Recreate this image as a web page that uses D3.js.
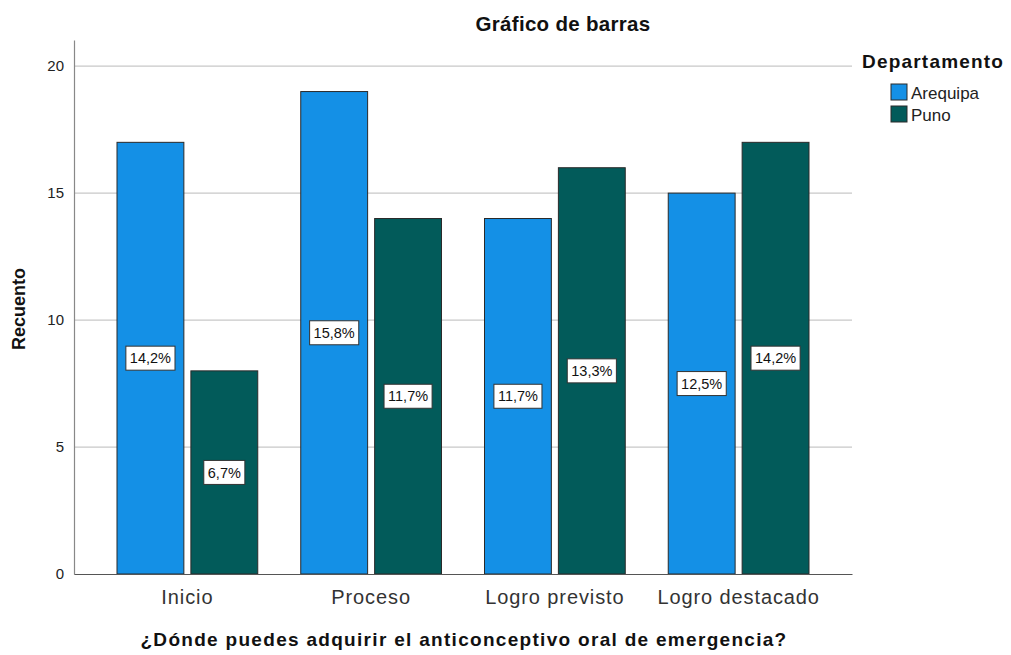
<!DOCTYPE html>
<html>
<head>
<meta charset="utf-8">
<script src="https://cdn.jsdelivr.net/npm/d3@7"></script>
<style>
  body { margin: 0; background: #fff; }
  text { font-family: "Liberation Sans", Arial, sans-serif; }
</style>
</head>
<body>
<script>
const categories = ["Inicio", "Proceso", "Logro previsto", "Logro destacado"];
const groups = ["Arequipa", "Puno"];
const arequipa = [17, 19, 14, 15];
const puno = [8, 14, 16, 17];
const arequipaPct = ["14,2%", "15,8%", "11,7%", "12,5%"];
const punoPct = ["6,7%", "11,7%", "13,3%", "14,2%"];
const yTicks = [0, 5, 10, 15, 20];

const width = 1011, height = 655;
const plotLeft = 74, plotRight = 852, plotTop = 40, plotBottom = 574;

const colors = d3.scaleOrdinal().domain(groups).range(["#1490e6", "#025b5a"]);

const svg = d3.select("body").append("svg")
    .attr("width", width)
    .attr("height", height);

const x = d3.scaleBand()
    .domain(categories)
    .range([plotLeft, plotRight])
    .paddingInner(0.234)
    .paddingOuter(0.234);

const xSub = d3.scaleBand()
    .domain(groups)
    .range([0, x.bandwidth()])
    .paddingInner(0.095);

const y = d3.scaleLinear()
    .domain([0, 21.03])
    .range([plotBottom, plotTop]);

// gridlines
svg.append("g")
    .selectAll("line")
    .data(yTicks.filter(d => d > 0))
    .enter().append("line")
    .attr("x1", plotLeft).attr("x2", plotRight)
    .attr("y1", d => y(d)).attr("y2", d => y(d))
    .attr("stroke", "#c8c8c8")
    .attr("stroke-width", 1.2);

// y axis
const yAxis = svg.append("g")
    .attr("transform", `translate(${plotLeft},0)`)
    .call(d3.axisLeft(y).tickValues(yTicks).tickSize(0).tickPadding(10));
yAxis.select(".domain").attr("stroke", "#888").attr("stroke-width", 1.2);
yAxis.selectAll("text").style("font-size", "15px").attr("fill", "#222");

// bars
const rows = categories.map((c, i) => ({
    cat: c,
    vals: [
        {g: "Arequipa", v: arequipa[i], p: arequipaPct[i]},
        {g: "Puno", v: puno[i], p: punoPct[i]}
    ]
}));

const grp = svg.append("g").selectAll("g")
    .data(rows)
    .enter().append("g")
    .attr("transform", d => `translate(${x(d.cat)},0)`);

grp.selectAll("rect")
    .data(d => d.vals)
    .enter().append("rect")
    .attr("x", d => xSub(d.g))
    .attr("y", d => y(d.v))
    .attr("width", xSub.bandwidth())
    .attr("height", d => y(0) - y(d.v))
    .attr("fill", d => colors(d.g))
    .attr("stroke", "#2a2a2a")
    .attr("stroke-width", 1);

// percentage labels
const lab = grp.selectAll(".lab")
    .data(d => d.vals)
    .enter().append("g")
    .attr("class", "lab")
    .attr("transform", d => `translate(${xSub(d.g) + xSub.bandwidth() / 2},${y(d.v / 2)})`);

lab.append("rect")
    .attr("y", -12)
    .attr("height", 24)
    .attr("fill", "#fff")
    .attr("stroke", "#333")
    .attr("stroke-width", 1);

lab.append("text")
    .attr("text-anchor", "middle")
    .attr("dy", "0.36em")
    .style("font-size", "14.5px")
    .attr("fill", "#111")
    .text(d => d.p);

lab.each(function () {
    const w = d3.select(this).select("text").node().getComputedTextLength() + 8;
    d3.select(this).select("rect").attr("x", -w / 2).attr("width", w);
});

// x axis
const xAxis = svg.append("g")
    .attr("transform", `translate(0,${plotBottom})`)
    .call(d3.axisBottom(x).tickSize(0).tickPadding(16));
xAxis.select(".domain").attr("stroke", "#555").attr("stroke-width", 1.2);
xAxis.selectAll("text")
    .style("font-size", "20px")
    .style("letter-spacing", "0.9px")
    .attr("fill", "#333");

// titles
svg.append("text")
    .attr("x", 563).attr("y", 31)
    .attr("text-anchor", "middle")
    .style("font-size", "20.5px").style("font-weight", "bold")
    .style("letter-spacing", "0.3px")
    .attr("fill", "#111")
    .text("Gráfico de barras");

svg.append("text")
    .attr("x", 464).attr("y", 646)
    .attr("text-anchor", "middle")
    .style("font-size", "19px").style("font-weight", "bold")
    .style("letter-spacing", "1.3px")
    .attr("fill", "#111")
    .text("¿Dónde puedes adquirir el anticonceptivo oral de emergencia?");

svg.append("text")
    .attr("transform", "translate(25,309) rotate(-90)")
    .attr("text-anchor", "middle")
    .style("font-size", "18px").style("font-weight", "bold")
    .attr("fill", "#111")
    .text("Recuento");

// legend
const legend = svg.append("g").attr("transform", "translate(862,0)");
legend.append("text")
    .attr("x", 0).attr("y", 68)
    .style("font-size", "19px").style("font-weight", "bold")
    .style("letter-spacing", "1.2px")
    .attr("fill", "#111")
    .text("Departamento");

const items = legend.selectAll(".item")
    .data(groups)
    .enter().append("g")
    .attr("class", "item")
    .attr("transform", (d, i) => `translate(29,${84 + i * 22})`);

items.append("rect")
    .attr("width", 16).attr("height", 16)
    .attr("fill", d => colors(d))
    .attr("stroke", "#2a2a2a");

items.append("text")
    .attr("x", 20).attr("y", 15)
    .style("font-size", "17px")
    .attr("fill", "#222")
    .text(d => d);
</script>
</body>
</html>
